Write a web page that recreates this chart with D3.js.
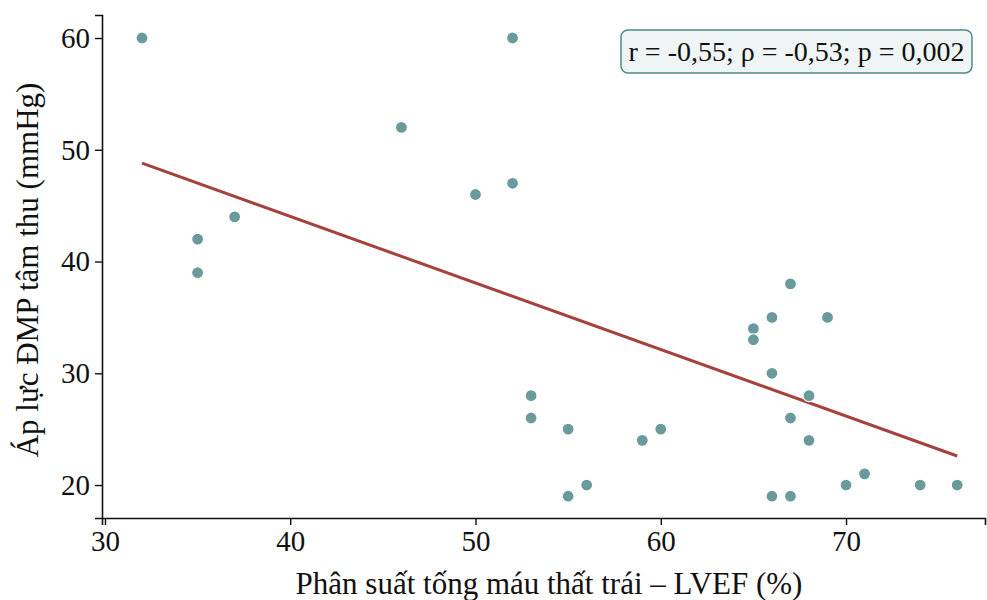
<!DOCTYPE html>
<html>
<head>
<meta charset="utf-8">
<script src="https://cdn.jsdelivr.net/npm/d3@7"></script>
<style>
  body { margin: 0; background: #fff; }
  text { font-family: "Liberation Serif", "DejaVu Serif", serif; fill: #111; }
</style>
</head>
<body>
<svg id="chart" width="987" height="600"></svg>
<script>
// LVEF (%) vs systolic PAP (mmHg)
var lvef = [32, 35, 35, 37, 46, 50, 52, 52, 53, 53, 55, 55, 56, 59, 60,
            65, 65, 66, 66, 66, 67, 67, 67, 68, 68, 69, 70, 71, 74, 76]
var pap  = [60, 42, 39, 44, 52, 46, 60, 47, 28, 26, 25, 19, 20, 24, 25,
            34, 33, 35, 30, 19, 38, 26, 19, 28, 24, 35, 20, 21, 20, 20]
// fitted line end points
var fitX = [32, 76]
var fitY = [48.8, 22.6]
var xTicks = [30, 40, 50, 60, 70]
var yTicks = [20, 30, 40, 50, 60]
var statText = "r = -0,55; ρ = -0,53; p = 0,002"

var svg = d3.select("#chart")
var mLeft = 102, mRight = 985, mTop = 15, mBottom = 518

var x = d3.scaleLinear().domain([29.84, 77.5]).range([mLeft, mRight])
var y = d3.scaleLinear().domain([17.05, 62.06]).range([mBottom, mTop])

// axes
svg.append("g").attr("transform", "translate(0," + mBottom + ")")
  .call(d3.axisBottom(x).tickValues(xTicks).tickSize(7).tickPadding(5))
svg.append("g").attr("transform", "translate(" + mLeft + ",0)")
  .call(d3.axisLeft(y).tickValues(yTicks).tickSize(7).tickPadding(5))
svg.selectAll(".domain").attr("stroke", "#111").attr("stroke-width", 1.6)
svg.selectAll(".tick line").attr("stroke", "#111").attr("stroke-width", 1.4)
svg.selectAll(".tick text").style("font-family", "Liberation Serif").style("font-size", "29px").attr("fill", "#111")

// regression line
svg.append("path")
  .datum(fitX)
  .attr("d", d3.line().x(function(d) { return x(d) }).y(function(d, i) { return y(fitY[i]) }))
  .attr("fill", "none")
  .attr("stroke", "#a5423c").attr("stroke-width", 3)

// points
svg.append("g").selectAll("circle")
  .data(lvef)
  .enter().append("circle")
  .attr("cx", function(d) { return x(d) })
  .attr("cy", function(d, i) { return y(pap[i]) })
  .attr("r", 6)
  .attr("fill", "#6a9a9b")
  .attr("stroke", "#fff").attr("stroke-width", 1.2)

// stats box
var box = svg.append("g")
box.append("rect")
  .attr("x", 621).attr("y", 30).attr("width", 351).attr("height", 43)
  .attr("rx", 7).attr("fill", "#eef5f4").attr("stroke", "#4f8a86").attr("stroke-width", 1.5)
box.append("text")
  .attr("x", 796.5).attr("y", 61).attr("text-anchor", "middle")
  .style("font-size", "28px").text(statText)

// axis titles
svg.append("text")
  .attr("x", 549).attr("y", 594).attr("text-anchor", "middle")
  .style("font-size", "31px").text("Phân suất tống máu thất trái – LVEF (%)")
svg.append("text")
  .attr("transform", "translate(38," + 270 + ") rotate(-90)")
  .attr("text-anchor", "middle")
  .style("font-size", "31px").text("Áp lực ĐMP tâm thu (mmHg)")
</script>
</body>
</html>
